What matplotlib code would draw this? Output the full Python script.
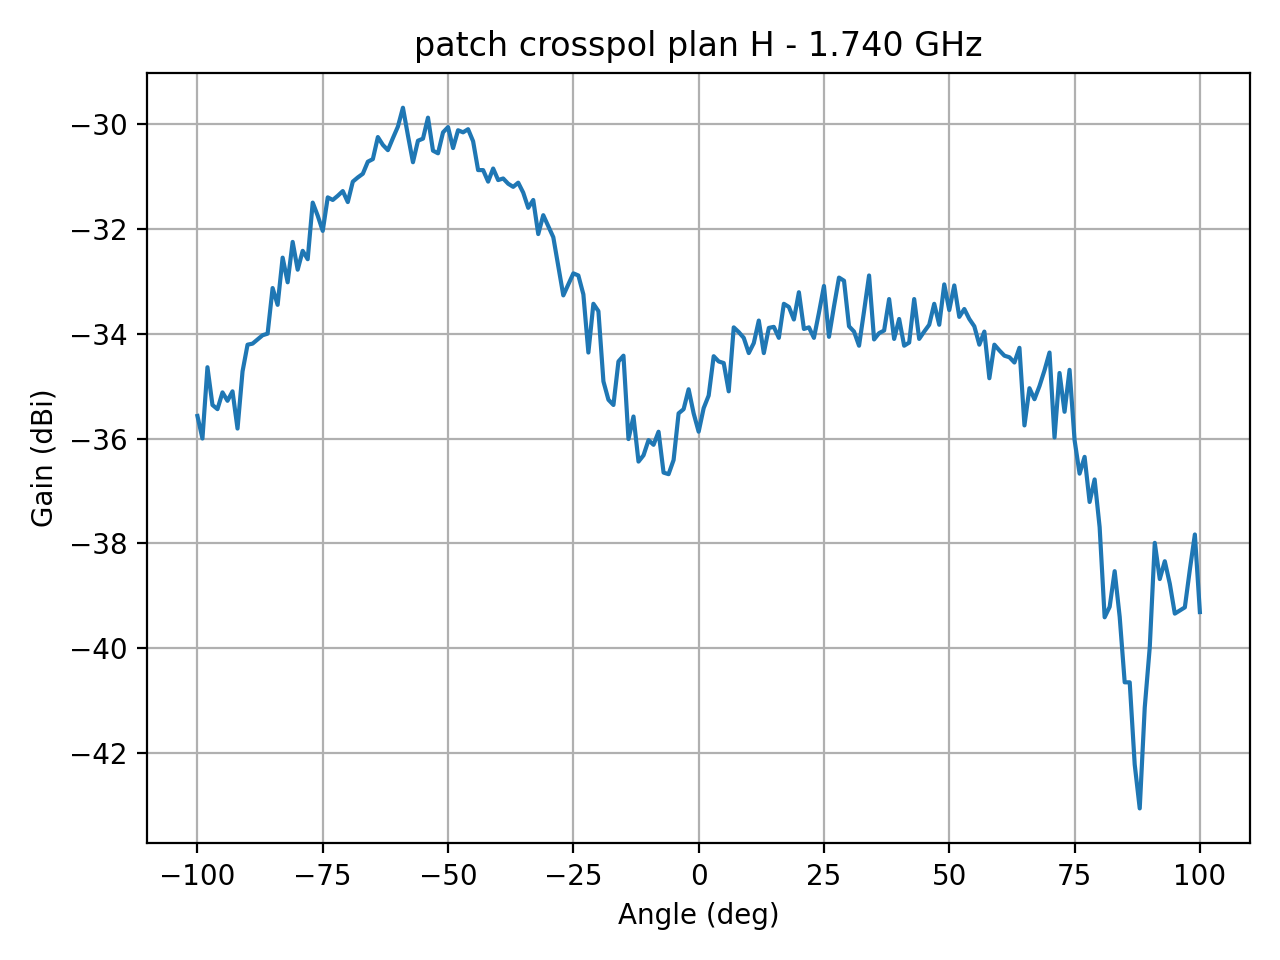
import numpy as np
import matplotlib
matplotlib.use("Agg")
import matplotlib.pyplot as plt

# angle in degrees, measured every 1 deg
angle = np.arange(-100, 101, 1)

# crosspol gain (dBi)
gain = [
    -35.57, -36.00, -34.64, -35.36, -35.44, -35.12, -35.28, -35.10, -35.81, -34.72,  # -100..-91
    -34.21, -34.19, -34.11, -34.03, -34.00, -33.13, -33.45, -32.55, -33.02, -32.25,  # -90..-81
    -32.78, -32.42, -32.58, -31.50, -31.75, -32.04, -31.40, -31.45, -31.37, -31.28,  # -80..-71
    -31.49, -31.10, -31.02, -30.95, -30.72, -30.67, -30.25, -30.40, -30.50, -30.27,  # -70..-61
    -30.05, -29.69, -30.22, -30.73, -30.32, -30.28, -29.88, -30.51, -30.56, -30.16,  # -60..-51
    -30.06, -30.46, -30.12, -30.16, -30.10, -30.33, -30.88, -30.88, -31.10, -30.85,  # -50..-41
    -31.07, -31.04, -31.14, -31.20, -31.12, -31.31, -31.60, -31.45, -32.10, -31.74,  # -40..-31
    -31.95, -32.16, -32.71, -33.27, -33.06, -32.85, -32.89, -33.25, -34.36, -33.43,  # -30..-21
    -33.57, -34.91, -35.26, -35.36, -34.53, -34.42, -36.01, -35.58, -36.44, -36.32,  # -20..-11
    -36.03, -36.12, -35.87, -36.65, -36.68, -36.41, -35.52, -35.44, -35.06, -35.52,  # -10..-1
    -35.87, -35.42, -35.18, -34.43, -34.53, -34.56, -35.10, -33.88, -33.97, -34.08,  # 0..9
    -34.37, -34.18, -33.75, -34.37, -33.89, -33.87, -34.08, -33.43, -33.49, -33.73,  # 10..19
    -33.21, -33.91, -33.88, -34.08, -33.60, -33.09, -34.06, -33.48, -32.93, -32.99,  # 20..29
    -33.86, -33.96, -34.23, -33.57, -32.89, -34.11, -33.99, -33.94, -33.34, -34.10,  # 30..39
    -33.72, -34.23, -34.17, -33.34, -34.10, -33.96, -33.83, -33.43, -33.83, -33.06,  # 40..49
    -33.55, -33.08, -33.68, -33.53, -33.72, -33.86, -34.21, -33.96, -34.85, -34.21,  # 50..59
    -34.32, -34.42, -34.45, -34.55, -34.27, -35.75, -35.04, -35.25, -35.00, -34.70,  # 60..69
    -34.36, -35.98, -34.75, -35.49, -34.69, -36.03, -36.67, -36.35, -37.21, -36.78,  # 70..79
    -37.69, -39.41, -39.21, -38.53, -39.40, -40.65, -40.65, -42.22, -43.055, -41.13,  # 80..89
    -39.98, -37.99, -38.68, -38.34, -38.77, -39.34, -39.28, -39.22, -38.50, -37.83,  # 90..99
    -39.31,                                                                          # 100
]

freq_ghz = 1.740

fig, ax = plt.subplots(figsize=(6.4, 4.8), dpi=200)
ax.plot(angle, gain)
ax.set_title("patch crosspol plan H - %.3f GHz" % freq_ghz)
ax.set_xlabel("Angle (deg)")
ax.set_ylabel("Gain (dBi)")
ax.grid(True)
plt.tight_layout()
plt.savefig("out.png", dpi=200)
